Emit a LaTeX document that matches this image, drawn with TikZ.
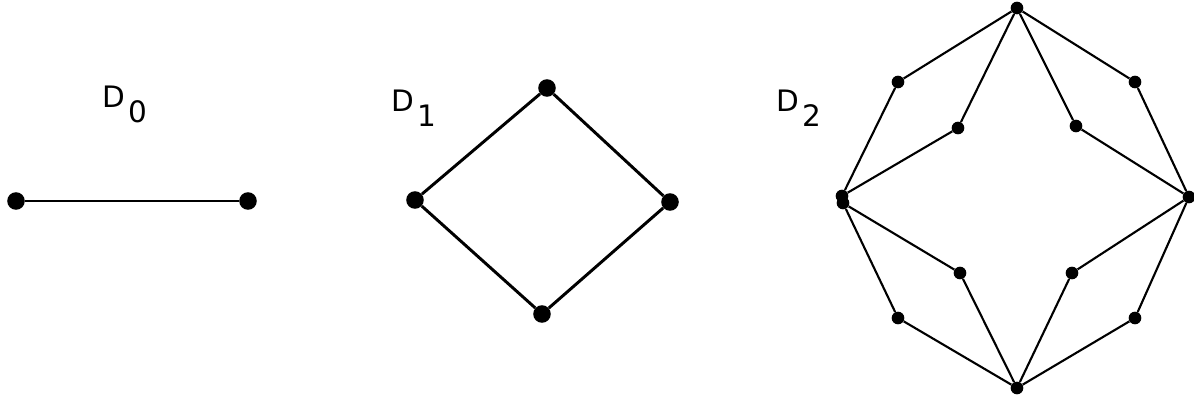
\documentclass[tikz,border=0pt]{standalone}
\usepackage{fontspec}
\setmainfont{DejaVu Sans}
\newcommand{\dname}[1]{D\kern2.5pt\raisebox{-10pt}{#1}}
\begin{document}
\begin{tikzpicture}[x=0.025cm,y=-0.025cm,
  bigdot/.style={circle,fill,inner sep=0pt,minimum size=12.5pt},
  smalldot/.style={circle,fill,inner sep=0pt,minimum size=9pt},
  thick edge/.style={line width=2.1pt},
  thin edge/.style={line width=1.5pt},
  lbl/.style={anchor=base west,inner sep=0pt,font=\fontsize{21}{24}\selectfont}]
  \useasboundingbox (0,0) rectangle (1194,400);
  % D0
  \node[lbl] (n0) at (102,108) {\dname{0}};
  \node[bigdot] (a) at (16,201) {};
  \node[bigdot] (b) at (248,201) {};
  \draw[thick edge] (a) -- (b);
  % D1
  \node[lbl] (n1) at (391,112) {\dname{1}};
  \node[bigdot] (w) at (415,200) {};
  \node[bigdot] (n) at (547,88) {};
  \node[bigdot] (e) at (670,202) {};
  \node[bigdot] (s) at (542,314) {};
  \draw[thick edge] (w) -- (n) -- (e) -- (s) -- (w);
  % D2
  \node[lbl] (n2) at (776,112) {\dname{2}};
  \node[smalldot] (top) at (1017,8) {};
  \node[smalldot] (rt) at (1189,197) {};
  \node[smalldot] (bot) at (1017,388) {};
  \node[smalldot] (lfa) at (842,196) {};
  \node[smalldot] (lfb) at (843,203) {};
  \node[smalldot] (oul) at (898,82) {};
  \node[smalldot] (our) at (1135,82) {};
  \node[smalldot] (oll) at (898,318) {};
  \node[smalldot] (olr) at (1135,318) {};
  \node[smalldot] (iul) at (958,128) {};
  \node[smalldot] (iur) at (1076,126) {};
  \node[smalldot] (ill) at (960,273) {};
  \node[smalldot] (ilr) at (1072,273) {};
  \draw[thin edge] (top) -- (oul) -- (lfa);
  \draw[thin edge] (top) -- (iul) -- (lfa);
  \draw[thin edge] (top) -- (our) -- (rt);
  \draw[thin edge] (top) -- (iur) -- (rt);
  \draw[thin edge] (lfb) -- (oll) -- (bot);
  \draw[thin edge] (lfb) -- (ill) -- (bot);
  \draw[thin edge] (rt) -- (olr) -- (bot);
  \draw[thin edge] (rt) -- (ilr) -- (bot);
\end{tikzpicture}
\end{document}
